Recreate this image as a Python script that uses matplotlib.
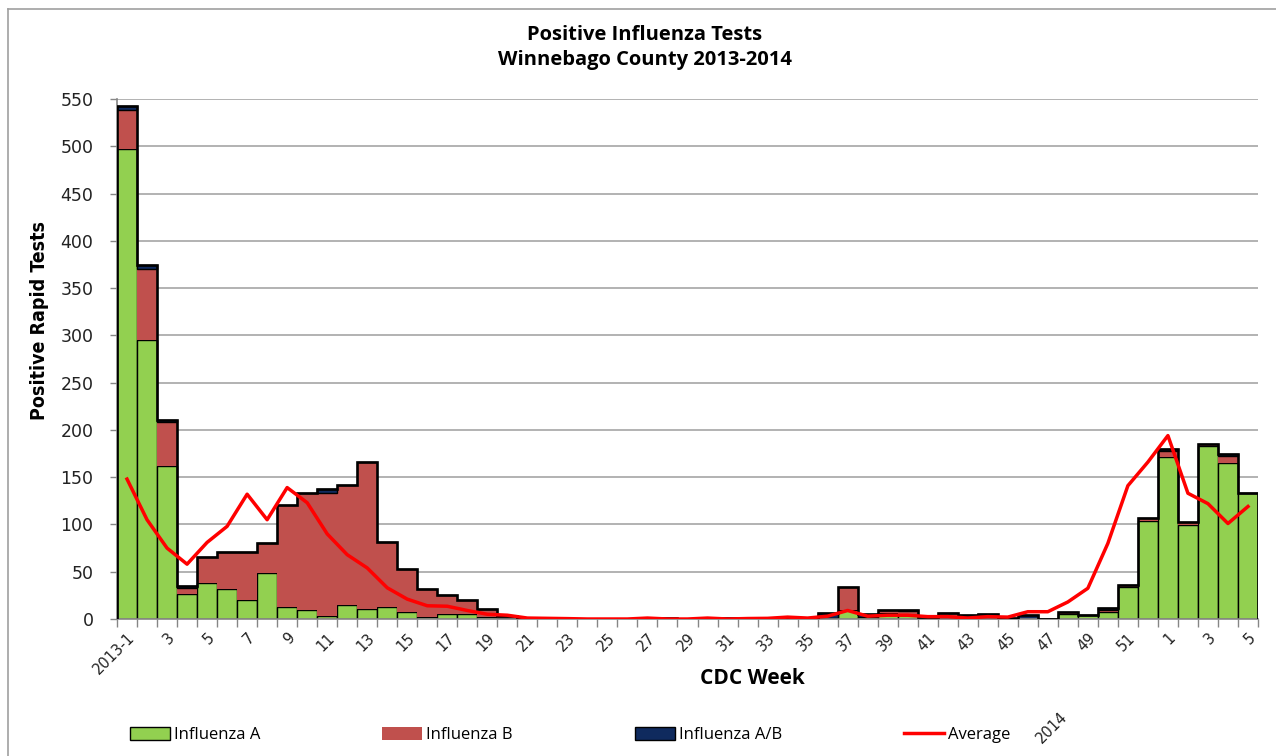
import numpy as np
import matplotlib
matplotlib.use("Agg")
import matplotlib.pyplot as plt
from matplotlib.patches import Patch
from matplotlib.lines import Line2D

weeks = ["2013-1"] + [str(i) for i in range(2, 53)] + [str(i) for i in range(1, 6)]

flu_a = [497, 295, 162, 26, 38, 32, 20, 49, 13, 9, 3, 15, 11, 13, 7, 2, 5, 5, 2, 1,
         0, 0, 0, 0, 0, 0, 0, 0, 0, 0, 0, 0, 0, 0, 0, 1, 9, 2, 6, 4,
         1, 1, 1, 1, 0, 0, 0, 5, 4, 7, 34, 104, 171, 99, 183, 165, 133]
flu_b = [41, 75, 46, 7, 28, 39, 51, 31, 108, 124, 130, 127, 155, 68, 46, 30, 20, 15, 9, 2,
         0, 0, 0, 0, 0, 0, 0, 0, 0, 0, 0, 0, 0, 0, 0, 0, 25, 0, 4, 4,
         0, 5, 3, 4, 0, 0, 0, 2, 0, 2, 2, 3, 7, 4, 2, 7, 0]
flu_ab = [5, 4, 3, 2, 0, 0, 0, 0, 0, 0, 4, 0, 0, 0, 0, 0, 0, 0, 0, 0,
          0, 0, 0, 0, 0, 0, 1, 1, 0, 1, 1, 1, 1, 0, 1, 5, 0, 3, 0, 2,
          1, 0, 0, 0, 1, 4, 0, 0, 0, 3, 0, 0, 2, 0, 0, 2, 0]
average = [148, 105, 75, 58, 81, 98, 132, 105, 139, 123, 90, 68, 54, 33, 21, 14, 13.5, 9, 5, 4,
           1, 0.7, 0.4, 0, 0, 0, 1, 0, 0, 1, 0, 0.5, 0.7, 2, 1, 3, 9, 3, 4, 4,
           2.5, 2.5, 1, 2.5, 2, 7.7, 7.7, 18, 32.5, 80, 141, 166, 194, 133, 122, 101, 119]

GREEN = "#92D050"
RED = "#C0504D"
NAVY = "#0F2A5E"
GRID = "#A6A6A6"

fig = plt.figure(figsize=(12.76, 7.56), dpi=100)
W, H = 1276, 756
ax = fig.add_axes([117 / W, 1 - 619 / H, (1258 - 117) / W, (619 - 99) / H])

x = np.arange(len(weeks))
a = np.array(flu_a, float)
b = np.array(flu_b, float)
ab = np.array(flu_ab, float)
total = a + b + ab

ax.bar(x, a, width=1.0, color=GREEN, edgecolor="black", linewidth=1.0, zorder=2)
ax.bar(x, b, width=1.0, bottom=a, color=RED, edgecolor="none", linewidth=0, zorder=2)
ax.bar(x, ab, width=1.0, bottom=a + b, color=NAVY, edgecolor="black", linewidth=1.0, zorder=2)
ax.stairs(total, edges=np.arange(len(weeks) + 1) - 0.5, baseline=0,
          color="black", linewidth=1.9, zorder=3)
ax.plot(x, average, color="#FF0000", linewidth=2.5, zorder=4)

ax.set_xlim(-0.5, len(weeks) - 0.5)
ax.set_ylim(0, 550)
ax.set_yticks(np.arange(0, 551, 50))
ax.yaxis.grid(True, color=GRID, linewidth=1.2, zorder=0)
ax.set_axisbelow(True)

ax.set_xticks(x[::2])
ax.set_xticklabels(weeks[::2], rotation=45, ha="right", va="top",
                   rotation_mode="anchor", fontsize=10.5, color="#222222")
ax.set_xticks(np.arange(len(weeks) + 1) - 0.5, minor=True)
ax.tick_params(axis="x", which="major", length=0, pad=8)
ax.tick_params(axis="x", which="minor", length=6, color="#868686", width=1)
ax.tick_params(axis="y", length=5, color="#868686", width=1, labelsize=12.5,
               labelcolor="#222222", pad=12)

for s in ("top", "right"):
    ax.spines[s].set_visible(False)
for s in ("left", "bottom"):
    ax.spines[s].set_color("#868686")
    ax.spines[s].set_linewidth(1.2)

fig.text(645 / W, 1 - 35 / H, "Positive Influenza Tests", ha="center", va="center",
         fontsize=14.5, fontweight="bold", family=["Open Sans", "DejaVu Sans"])
fig.text(645 / W, 1 - 60 / H, "Winnebago County 2013-2014", ha="center", va="center",
         fontsize=14.5, fontweight="bold", family=["Open Sans", "DejaVu Sans"])
fig.text(40 / W, 1 - 320 / H, "Positive Rapid Tests", rotation=90, ha="center", va="center",
         fontsize=14, fontweight="bold", fontstretch="condensed",
         family=["Liberation Sans Narrow", "DejaVu Sans"])
fig.text(752 / W, 1 - 678 / H, "CDC Week", ha="center", va="center",
         fontsize=15, fontweight="bold", family=["Open Sans", "DejaVu Sans"])
fig.text(1052 / W, 1 - 728 / H, "2014", rotation=45, ha="center", va="center",
         fontsize=10.5, color="#222222")

handles = [Patch(facecolor=GREEN, edgecolor="black", linewidth=1.0),
           Patch(facecolor=RED, edgecolor="none"),
           Patch(facecolor=NAVY, edgecolor="black", linewidth=1.0),
           Line2D([0], [0], color="#FF0000", linewidth=2.5)]
labels = ["Influenza A", "Influenza B", "Influenza A/B", "Average"]
fig.legend(handles, labels, ncol=4, loc="center left",
           bbox_to_anchor=(115 / W, 1 - 735 / H), frameon=False,
           prop={"family": ["Open Sans", "DejaVu Sans"], "size": 12},
           handlelength=2.4, handleheight=0.8, handletextpad=0.25, columnspacing=7.3)

# outer chart border (left and top visible in the reference)
fig.add_artist(Line2D([8 / W, 8 / W], [0, 1 - 9 / H], color="#A0A0A0", linewidth=1.2,
                      transform=fig.transFigure))
fig.add_artist(Line2D([8 / W, 1], [1 - 9 / H, 1 - 9 / H], color="#A0A0A0", linewidth=1.2,
                      transform=fig.transFigure))

fig.savefig("out.png", dpi=100)
